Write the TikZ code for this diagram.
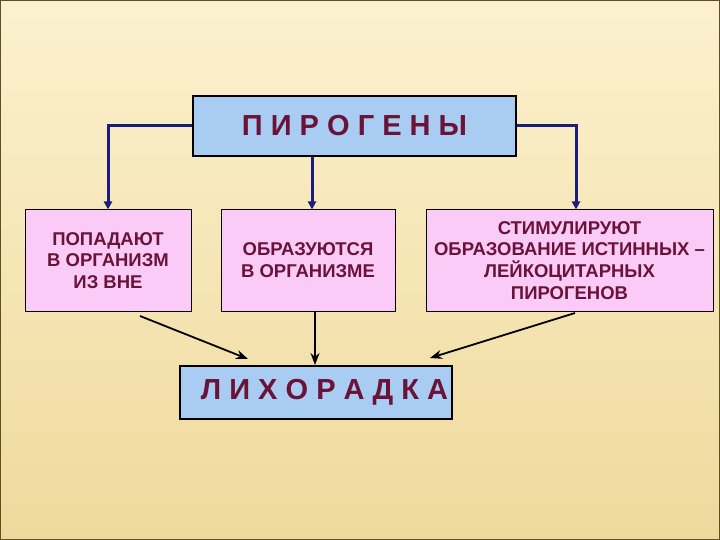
\documentclass[tikz,border=0pt]{standalone}
\usepackage{fontspec}
\setmainfont{Liberation Sans}
\usetikzlibrary{arrows.meta}
\definecolor{bgtop}{HTML}{FCF1CF}
\definecolor{bgbot}{HTML}{EFDA9C}
\definecolor{boxblue}{HTML}{A9CDF2}
\definecolor{boxpink}{HTML}{FBCBF8}
\definecolor{maroon}{HTML}{6A1238}
\definecolor{navy}{HTML}{1C1C7C}
\definecolor{frame}{HTML}{5E5022}
\tikzset{
  bluebox/.style={draw=black, line width=2pt, fill=boxblue, inner sep=0pt, text=maroon,
    font=\fontsize{29}{32}\selectfont\bfseries},
  pinkbox/.style={draw=black, line width=1pt, fill=boxpink, inner sep=0pt, text=maroon,
    align=center, font=\fontsize{18.5}{21.8}\selectfont\bfseries},
  navyarrow/.style={draw=navy, line width=3pt, -{Triangle[length=8pt,width=8pt]}},
  blackarrow/.style={draw=black, line width=1.8pt, -{Stealth[length=12pt,width=9pt]}}
}
\begin{document}
\begin{tikzpicture}[x=1pt,y=-1pt]
\useasboundingbox (0,0) rectangle (720,540);
\shade[top color=bgtop, bottom color=bgbot] (0,0) rectangle (720,540);
\draw[frame, line width=1.2pt] (0.6,0.6) rectangle (719.4,539.4);

\node[bluebox, minimum width=323pt, minimum height=60pt] (top) at (354.5,126) {П И Р О Г Е Н Ы};
\node[pinkbox, minimum width=166pt, minimum height=101pt] (left) at (108,260.5) {ПОПАДАЮТ\\В ОРГАНИЗМ\\ИЗ ВНЕ};
\node[pinkbox, minimum width=174pt, minimum height=101pt] (mid) at (308,260.5) {ОБРАЗУЮТСЯ\\В ОРГАНИЗМЕ};
\node[pinkbox, minimum width=287pt, minimum height=101pt] (right) at (569.5,260.5) {СТИМУЛИРУЮТ\\ОБРАЗОВАНИЕ ИСТИННЫХ –\\ЛЕЙКОЦИТАРНЫХ\\ПИРОГЕНОВ};
\node[bluebox, minimum width=272pt, minimum height=53pt] (fever) at (316,392.5) {\hspace*{17pt}Л И Х О Р А Д К А};

\draw[navyarrow] (top.west) -| (left.north);
\draw[navyarrow] ([xshift=-42.5pt]top.south) -- ([xshift=4pt]mid.north);
\draw[navyarrow] (top.east) -| ([xshift=6.5pt]right.north);

\coordinate (l1) at (140,316);
\coordinate (l2) at (248,359);
\coordinate (r1) at (575,313);
\coordinate (r2) at (430,358);
\draw[blackarrow] (l1) -- (l2);
\draw[blackarrow] ([xshift=7pt]mid.south) -- ([xshift=-1pt]fever.north);
\draw[blackarrow] (r1) -- (r2);
\end{tikzpicture}
\end{document}
